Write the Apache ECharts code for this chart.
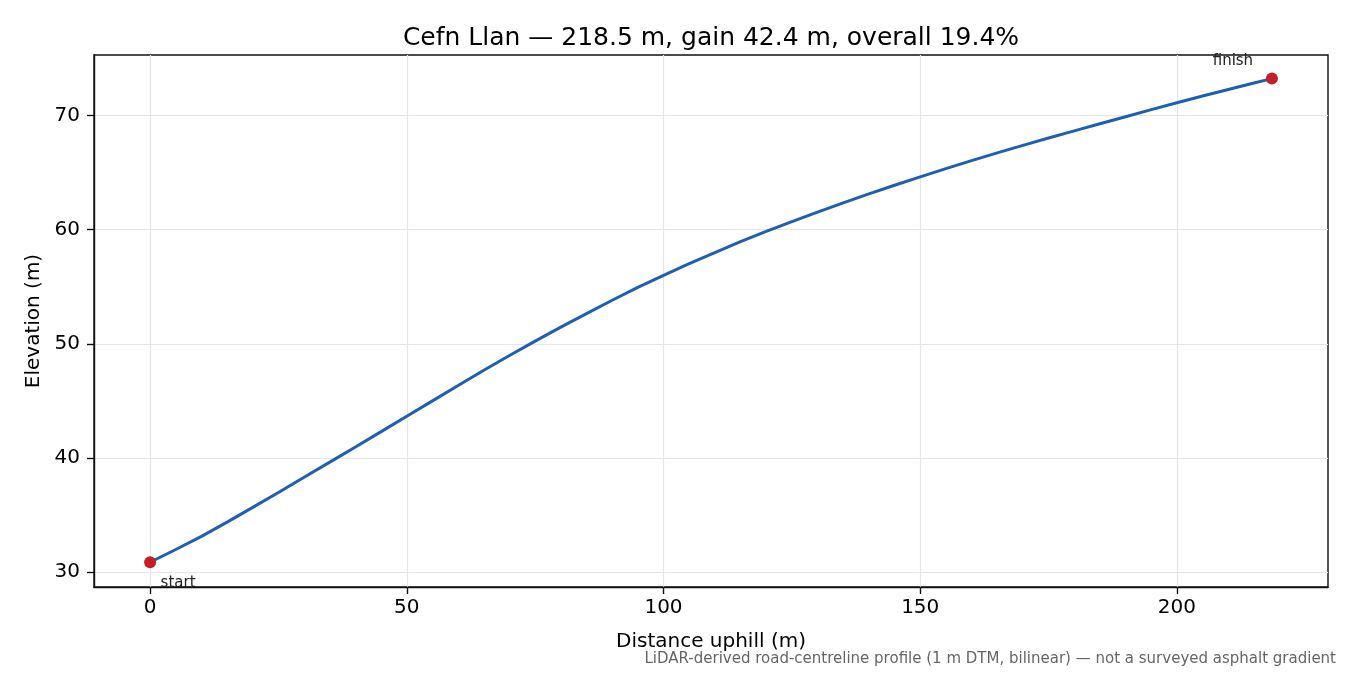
<!DOCTYPE html>
<html>
<head>
<meta charset="utf-8">
<title>Cefn Llan profile</title>
<script src="https://cdn.jsdelivr.net/npm/echarts@6/dist/echarts.min.js"></script>
<style>
  html, body { margin: 0; padding: 0; background: #fff; }
  #main { width: 1350px; height: 675px; }
</style>
</head>
<body>
<div id="main"></div>
<script>
// 距离 (m) 与高程 (m)
var distanceM = [0, 5, 10, 15, 20, 25, 30, 35, 40, 45, 50, 55, 60, 65, 70, 75, 80, 85, 90, 95,
                 100, 105, 110, 115, 120, 125, 130, 135, 140, 145, 150, 155, 160, 165, 170, 175,
                 180, 185, 190, 195, 200, 205, 210, 215, 218.5];
var elevationM = [30.85, 31.97, 33.12, 34.37, 35.66, 36.97, 38.3, 39.63, 40.96, 42.3, 43.65, 45.0,
                  46.35, 47.68, 48.98, 50.24, 51.46, 52.65, 53.82, 54.94, 56.0, 57.02, 58.0, 58.95,
                  59.85, 60.72, 61.55, 62.36, 63.14, 63.9, 64.64, 65.36, 66.06, 66.74, 67.4, 68.04,
                  68.67, 69.29, 69.91, 70.53, 71.14, 71.73, 72.3, 72.86, 73.25];
var endLabels = ['start', 'finish'];
var xTicks = [0, 50, 100, 150, 200];
var yTicks = [30, 40, 50, 60, 70];

var X_MIN = -10.925, X_MAX = 229.425, Y_MIN = 28.68, Y_MAX = 75.32;

var profile = distanceM.map(function (d, i) { return [d, elevationM[i]]; });
var last = distanceM.length - 1;
var ends = [
    { value: [distanceM[0], elevationM[0]], label: { formatter: endLabels[0], offset: [28, 21] } },
    { value: [distanceM[last], elevationM[last]], label: { formatter: endLabels[1], offset: [-39, -18] } }
];

var FONT = 'DejaVu Sans';
var myChart = echarts.init(document.getElementById('main'));
var option = {
    backgroundColor: '#fff',
    animation: false,
    title: {
        text: 'Cefn Llan — 218.5 m, gain 42.4 m, overall 19.4%',
        left: 706,
        textAlign: 'center',
        top: 21,
        textStyle: { fontFamily: FONT, fontSize: 25, fontWeight: 'normal', color: '#000' }
    },
    graphic: [{
        type: 'text',
        right: 14,
        top: 652,
        style: {
            text: 'LiDAR-derived road-centreline profile (1 m DTM, bilinear) — not a surveyed asphalt gradient',
            fill: '#666',
            font: '15px "DejaVu Sans"'
        }
    }],
    grid: {
        left: 94, right: 22, top: 55, bottom: 88,
        show: true, borderColor: '#111', borderWidth: 1.4
    },
    xAxis: {
        type: 'value',
        min: X_MIN,
        max: X_MAX,
        name: 'Distance uphill (m)',
        nameLocation: 'middle',
        nameGap: 45,
        nameTextStyle: { fontFamily: FONT, fontSize: 20, color: '#000' },
        axisLine: { show: true, onZero: false, lineStyle: { color: '#111', width: 1.4 } },
        axisTick: { show: true, length: 7, customValues: xTicks, lineStyle: { color: '#111', width: 1.4 } },
        axisLabel: {
            margin: 11, fontFamily: FONT, fontSize: 20, color: '#000',
            customValues: xTicks
        },
        splitLine: { show: true, lineStyle: { color: '#e6e6e6', width: 1.2 } }
    },
    yAxis: {
        type: 'value',
        min: Y_MIN,
        max: Y_MAX,
        name: 'Elevation (m)',
        nameLocation: 'middle',
        nameGap: 50,
        nameTextStyle: { fontFamily: FONT, fontSize: 20, color: '#000' },
        axisLine: { show: true, onZero: false, lineStyle: { color: '#111', width: 1.4 } },
        axisTick: { show: true, length: 7, customValues: yTicks, lineStyle: { color: '#111', width: 1.4 } },
        axisLabel: {
            margin: 14, fontFamily: FONT, fontSize: 20, color: '#000',
            customValues: yTicks
        },
        splitLine: { show: true, lineStyle: { color: '#e6e6e6', width: 1.2 } }
    },
    series: [
        {
            name: 'profile',
            type: 'line',
            data: profile,
            showSymbol: false,
            lineStyle: { color: '#1f5fb2', width: 3 },
            z: 2
        },
        {
            name: 'ends',
            type: 'scatter',
            data: ends,
            symbolSize: 12,
            itemStyle: { color: '#c41e2a', opacity: 1 },
            label: {
                show: true,
                position: 'inside',
                fontFamily: FONT,
                fontSize: 15,
                color: '#222'
            },
            z: 3
        }
    ]
};
myChart.setOption(option);
</script>
</body>
</html>
